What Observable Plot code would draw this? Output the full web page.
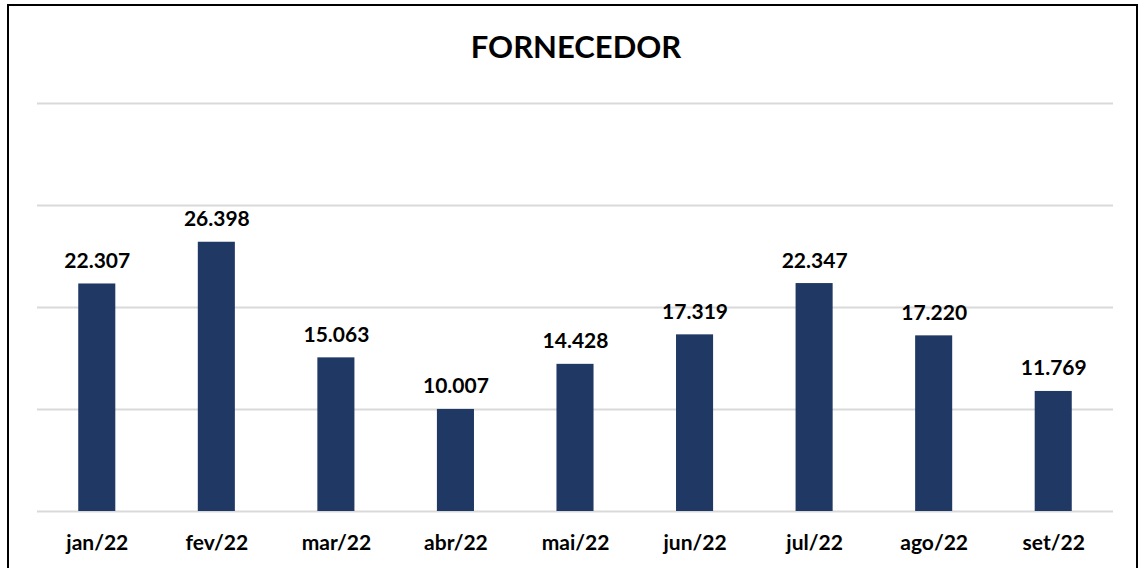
<!DOCTYPE html>
<html>
<head>
<meta charset="utf-8">
<script src="https://cdn.jsdelivr.net/npm/d3@7"></script>
<script src="https://cdn.jsdelivr.net/npm/@observablehq/plot@0.6"></script>
<style>
  html, body { margin: 0; padding: 0; background: #fff; }
  #wrap { position: relative; width: 1146px; height: 568px; overflow: hidden; background: #fff; }
  #frame { position: absolute; left: 7px; top: 4px; width: 1131px; height: 600px; border: 2px solid #000; box-sizing: border-box; }
  #title { position: absolute; left: 0; width: 1152px; top: 27px; text-align: center;
           font-family: Lato, "Open Sans", sans-serif; font-weight: 700; font-size: 31px; color: #000; }
  #chart { position: absolute; left: 0; top: 0; }
</style>
</head>
<body>
<div id="wrap">
  <div id="frame"></div>
  <div id="chart"></div>
  <div id="title">FORNECEDOR</div>
</div>
<script>
const months = ["jan/22", "fev/22", "mar/22", "abr/22", "mai/22", "jun/22", "jul/22", "ago/22", "set/22"];
const values = [22307, 26398, 15063, 10007, 14428, 17319, 22347, 17220, 11769];
const gridTicks = [0, 10000, 20000, 30000, 40000];

const ptBR = d3.formatLocale({decimal: ",", thousands: ".", grouping: [3], currency: ["R$", ""]});
const fmt = ptBR.format(",.0f");

const data = months.map((m, i) => ({month: m, value: values[i]}));

const chart = Plot.plot({
  width: 1146,
  height: 568,
  marginLeft: 37,
  marginRight: 33,
  marginTop: 103,
  marginBottom: 57,
  style: {fontFamily: "Lato, 'Open Sans', sans-serif", background: "transparent"},
  x: {domain: months, paddingInner: 0.69, paddingOuter: 0.345, round: false, label: null},
  y: {domain: [0, 40000], axis: null},
  marks: [
    Plot.ruleY(gridTicks, {stroke: "#d9d9d9", strokeWidth: 2}),
    Plot.barY(data, {x: "month", y: "value", fill: "#203864"}),
    Plot.text(data, {x: "month", y: "value", text: d => fmt(d.value), dy: -16,
      fontSize: 21, fontWeight: 700, fill: "#000", lineAnchor: "bottom"}),
    Plot.axisX({tickSize: 0, tickPadding: 24, fontSize: 21, fontWeight: 700, color: "#000", label: null})
  ]
});
document.getElementById("chart").appendChild(chart);
</script>
</body>
</html>
